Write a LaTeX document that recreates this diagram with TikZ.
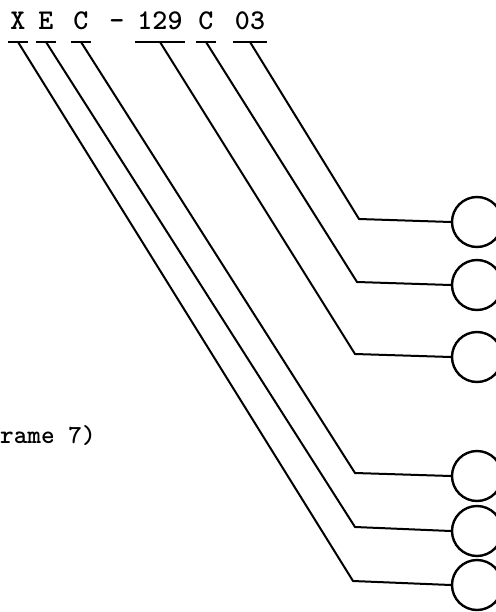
\documentclass[tikz,border=0pt]{standalone}
\usetikzlibrary{positioning}
\begin{document}
\begin{tikzpicture}[
  x=1pt, y=-1pt,
  code/.style={font=\fontsize{28.6}{30}\selectfont\ttfamily\bfseries, inner xsep=2pt, inner ysep=0pt, anchor=base},
  note/.style={font=\fontsize{26}{28}\selectfont\ttfamily\bfseries, inner sep=0pt, anchor=base west},
  uline/.style={line width=2.6pt},
  lead/.style={line width=2pt},
  port/.style={draw, circle, line width=2.4pt, minimum size=50pt, inner sep=0pt}
]
\useasboundingbox (0,0) rectangle (495,612);
% code letters
\node[code] (cX) at (18,30) {X};
\node[code] (cE) at (46,30) {E};
\node[code] (cC) at (81,30) {C};
\node[code] (cDash) at (117,30) {-};
\node[code] (cNum) at (160,30) {129};
\node[code] (cSub) at (206,30) {C};
\node[code] (cSer) at (250,30) {03};
\draw[uline] ([yshift=-12pt]cX.base west) -- ([yshift=-12pt]cX.base east);
\draw[uline] ([yshift=-12pt]cE.base west) -- ([yshift=-12pt]cE.base east);
\draw[uline] ([yshift=-12pt]cC.base west) -- ([yshift=-12pt]cC.base east);
\draw[uline] ([yshift=-12pt]cNum.base west) -- ([yshift=-12pt]cNum.base east);
\draw[uline] ([yshift=-12pt]cSub.base west) -- ([yshift=-12pt]cSub.base east);
\draw[uline] ([yshift=-12pt]cSer.base west) -- ([yshift=-12pt]cSer.base east);
% circles
\node[port] (p1) at (477,222) {};
\node[port] (p2) at (477,285) {};
\node[port] (p3) at (477,357) {};
\node[port] (p4) at (477,476) {};
\node[port] (p5) at (477,531) {};
\node[port] (p6) at (477,585) {};
% bends
\coordinate (b1) at (359,219);
\coordinate (b2) at (357,282);
\coordinate (b3) at (355,354);
\coordinate (b4) at (355,473);
\coordinate (b5) at (355,527);
\coordinate (b6) at (353,581);
% leads
\draw[lead] ([yshift=-12pt]cSer.base) -- (b1) -- (p1.west);
\draw[lead] ([yshift=-12pt]cSub.base) -- (b2) -- (p2.west);
\draw[lead] ([yshift=-12pt]cNum.base) -- (b3) -- (p3.west);
\draw[lead] ([yshift=-12pt]cC.base) -- (b4) -- (p4.west);
\draw[lead] ([yshift=-12pt]cE.base) -- (b5) -- (p5.west);
\draw[lead] ([yshift=-12pt]cX.base) -- (b6) -- (p6.west);
\node[note] (ref) at (0,443) {rame 7)};
\end{tikzpicture}
\end{document}
